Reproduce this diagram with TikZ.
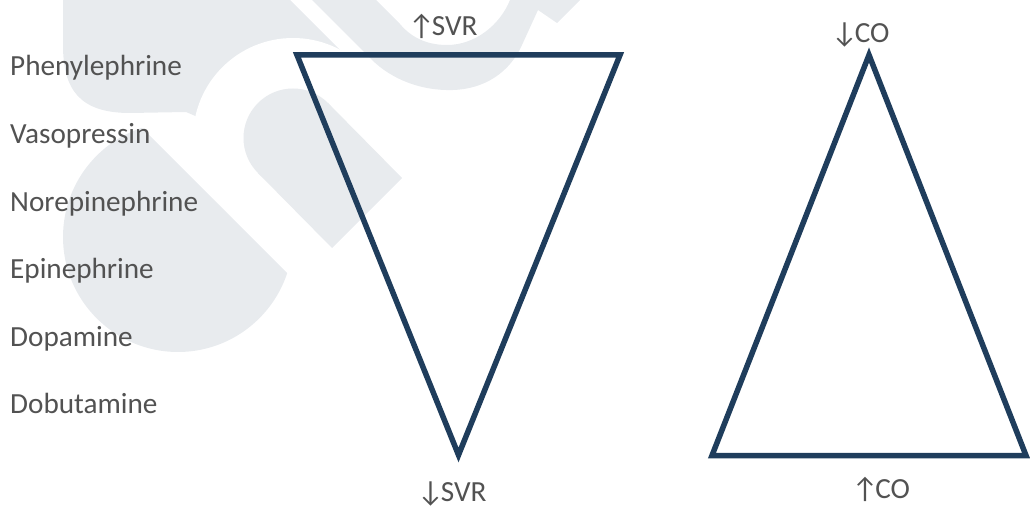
\documentclass[tikz,border=0pt]{standalone}
\usepackage{fontspec}
\setmainfont{Carlito}
\definecolor{navy}{RGB}{31,61,92}
\definecolor{txtgrey}{RGB}{82,82,82}
\definecolor{wmgrey}{RGB}{232,235,238}
\newcommand{\upar}{↑\kern-3pt}
\newcommand{\dnar}{↓\kern-3pt}
\begin{document}
\begin{tikzpicture}[x=1pt,y=-1pt,
  lbl/.style={inner sep=0pt, anchor=base west, text=txtgrey, font=\fontsize{29.2}{34}\selectfont},
  axlbl/.style={inner sep=0pt, anchor=base, text=txtgrey, font=\fontsize{29.2}{34}\selectfont},
  tri/.style={draw=navy, line width=5.5pt, line join=miter},
  wm/.style={fill=wmgrey}]
\useasboundingbox (0,0) rectangle (1030,508);
% faint watermark
\begin{scope}
  \clip (0,0) rectangle (1030,508);
  \fill[wm] (63,-10) -- (280,-10) -- (345,55) -- (300,110) -- (200,118) -- (186,112) -- (130,113) .. controls (80,113) and (63,90) .. (63,45) -- cycle;
  \fill[white] (293,138) circle[radius=100];
  \fill[wm] (293,138) circle[radius=49.5];
  \fill[wm] (328,103) -- (402,178) -- (332,248) -- (258,173) -- cycle;
  \begin{scope}
    \clip (-100,-114) -- (600,586) -- (-100,586) -- cycle;
    \fill[wm] (178,237) circle[radius=115];
  \end{scope}
  \fill[wm] (302,-10) -- (371,59) .. controls (392,80) and (422,91) .. (453,90) .. controls (485,89) and (510,72) .. (522,45) -- (538,10) -- (557,23) -- (590,-10) -- (512,-10) -- (510,0) .. controls (500,25) and (475,45) .. (447,45) .. controls (425,45) and (410,36) .. (400,24) -- (366,-10) -- cycle;
\end{scope}
% drug list
\node[lbl] (phe) at (10,76) {Phenylephrine};
\node[lbl] (vas) at (10,143.5) {Vasopressin};
\node[lbl] (nor) at (10,211) {Norepinephrine};
\node[lbl] (epi) at (10,278.5) {Epinephrine};
\node[lbl] (dop) at (10,346) {Dopamine};
\node[lbl] (dob) at (10,413.5) {Dobutamine};
% SVR triangle
\coordinate (s1) at (297,55);
\coordinate (s2) at (620,55);
\coordinate (s3) at (458.5,455);
\draw[tri] (s1) -- (s2) -- (s3) -- cycle;
\node[axlbl] (svrup) at (443,36) {\upar SVR};
\node[axlbl] (svrdn) at (452,501) {\dnar SVR};
% CO triangle
\coordinate (c1) at (869,55);
\coordinate (c2) at (712,455.5);
\coordinate (c3) at (1026,455.5);
\draw[tri] (c1) -- (c2) -- (c3) -- cycle;
\node[axlbl] (codn) at (860.5,43) {\dnar CO};
\node[axlbl] (coup) at (881,498) {\upar CO};
\end{tikzpicture}
\end{document}
